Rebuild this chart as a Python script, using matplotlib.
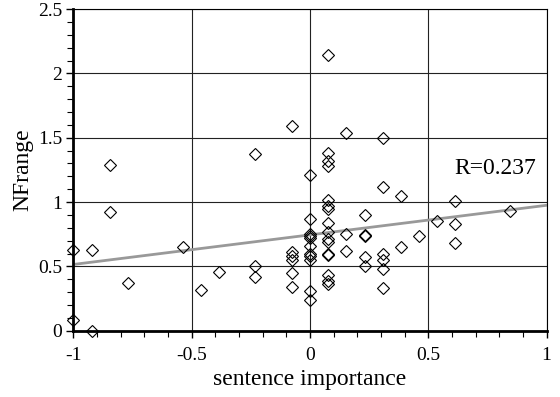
import numpy as np
import matplotlib
matplotlib.use('Agg')
import matplotlib.pyplot as plt
from matplotlib.ticker import MultipleLocator, FormatStrFormatter

plt.rcParams['font.family'] = ['Liberation Serif', 'DejaVu Serif']
plt.rcParams['axes.unicode_minus'] = False

########  data  ########
# sentence importance -> NFrange values at that x
x_levels = [-1, -0.923, -0.846, -0.769, -0.538, -0.462, -0.385, -0.231, -0.077,
            0, 0.077, 0.154, 0.231, 0.308, 0.385, 0.462, 0.538, 0.615, 0.846]
y_groups = [
    [0.63, 0.08],
    [0.63, 0.0],
    [1.29, 0.92],
    [0.37],
    [0.65],
    [0.32],
    [0.46],
    [1.37, 0.50, 0.42],
    [1.59, 0.61, 0.58, 0.55, 0.45, 0.34],
    [1.21, 0.87, 0.75, 0.74, 0.72, 0.66, 0.60, 0.58, 0.55, 0.31, 0.24],
    [2.14, 1.38, 1.32, 1.28, 1.02, 0.97, 0.95, 0.84, 0.77, 0.71, 0.69, 0.60, 0.59, 0.43, 0.39, 0.36],
    [1.54, 0.75, 0.62],
    [0.90, 0.745, 0.735, 0.57, 0.50],
    [1.50, 1.12, 0.60, 0.55, 0.48, 0.33],
    [1.05, 0.65],
    [0.74],
    [0.85],
    [1.01, 0.83, 0.68],
    [0.93],
]
fit_x = [-1, 1]
fit_y = [0.515, 0.975]
r_text = 'R=0.237'

xs = np.concatenate([[xv] * len(g) for xv, g in zip(x_levels, y_groups)])
ys = np.concatenate(y_groups)

fig = plt.figure(figsize=(5.6, 3.97), dpi=100)
ax = fig.add_axes([0.131, 0.167, 0.845, 0.81])

ax.plot(fit_x, fit_y, color='#999999', linewidth=2.0, zorder=2)
ax.plot(xs, ys, linestyle='none', marker='D', markersize=6.5, markerfacecolor='none',
        markeredgecolor='black', markeredgewidth=0.8, zorder=3, clip_on=False)

ax.set_xlim(-1, 1)
ax.set_ylim(0, 2.5)
ax.xaxis.set_major_locator(MultipleLocator(0.5))
ax.xaxis.set_minor_locator(MultipleLocator(0.1))
ax.yaxis.set_major_locator(MultipleLocator(0.5))
ax.yaxis.set_minor_locator(MultipleLocator(0.1))
ax.xaxis.set_major_formatter(FormatStrFormatter('%g'))
ax.yaxis.set_major_formatter(FormatStrFormatter('%g'))
ax.grid(which='major', color='#222222', linewidth=0.8)
ax.set_axisbelow(True)

ax.tick_params(which='both', direction='out', labelsize=14, pad=3)
ax.tick_params(which='major', length=5, width=1)
ax.tick_params(which='minor', length=4, width=0.8)
ax.tick_params(axis='x', pad=7)
ax.spines['left'].set_linewidth(2)
ax.spines['bottom'].set_linewidth(2)
ax.spines['top'].set_linewidth(0.8)
ax.spines['right'].set_linewidth(0.8)

ax.set_xlabel('sentence importance', fontsize=17, labelpad=3)
ax.set_ylabel('NFrange', fontsize=17, labelpad=3)
ax.text(0.61, 1.26, r_text, fontsize=17, ha='left', va='center')

plt.savefig('out.png', dpi=100)
